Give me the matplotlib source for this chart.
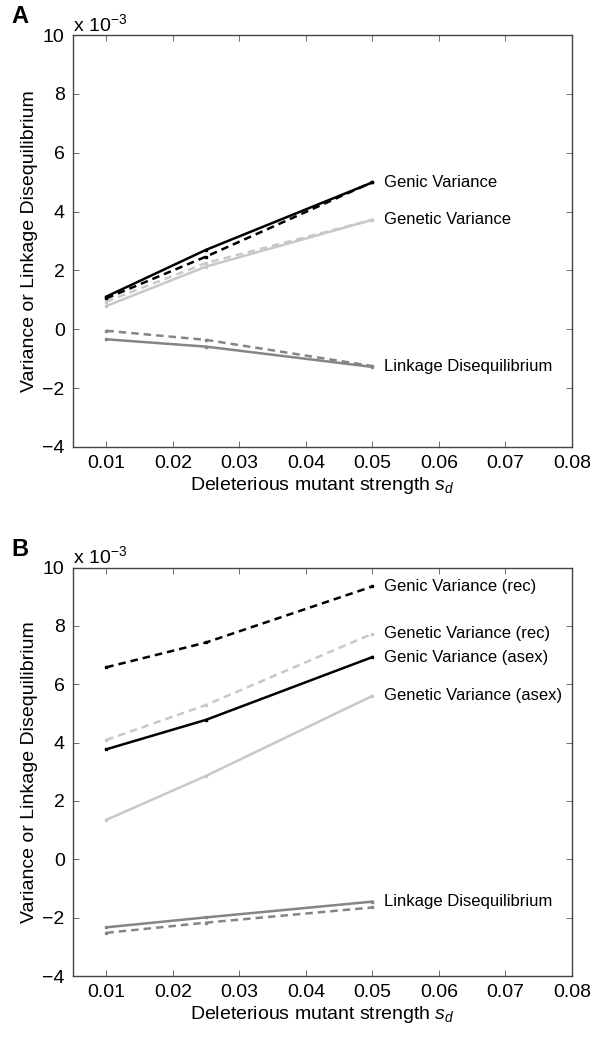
import matplotlib
matplotlib.use("Agg")
import matplotlib.pyplot as plt

plt.rcParams['font.family'] = ['Liberation Sans', 'DejaVu Sans']
plt.rcParams['mathtext.fontset'] = 'custom'
plt.rcParams['mathtext.it'] = 'Liberation Sans:italic'
plt.rcParams['mathtext.rm'] = 'Liberation Sans'

# x values: deleterious mutant strength
sd = [0.01, 0.025, 0.05]

# Panel A (values in units of 1e-3)
a_genic_solid = [1.11, 2.70, 4.99]
a_genic_dash = [1.05, 2.47, 5.00]
a_genetic_solid = [0.79, 2.13, 3.72]
a_genetic_dash = [0.94, 2.25, 3.72]
a_ld_solid = [-0.34, -0.59, -1.28]
a_ld_dash = [-0.05, -0.36, -1.25]

# Panel B (values in units of 1e-3)
b_genic_rec = [6.58, 7.43, 9.35]
b_genetic_rec = [4.09, 5.29, 7.73]
b_genic_asex = [3.77, 4.78, 6.93]
b_genetic_asex = [1.35, 2.86, 5.60]
b_ld_solid = [-2.33, -1.99, -1.45]
b_ld_dash = [-2.52, -2.17, -1.65]

xticks = [0.01, 0.02, 0.03, 0.04, 0.05, 0.06, 0.07, 0.08]
xticklabels = ['0.01', '0.02', '0.03', '0.04', '0.05', '0.06', '0.07', '0.08']
yticks = [-4, -2, 0, 2, 4, 6, 8, 10]
yticklabels = ['\u22124', '\u22122', '0', '2', '4', '6', '8', '10']

labels_a = ['Genic Variance', 'Genetic Variance', 'Linkage Disequilibrium']
labels_b = ['Genic Variance (rec)', 'Genetic Variance (rec)', 'Genic Variance (asex)',
            'Genetic Variance (asex)', 'Linkage Disequilibrium']

BLACK = '#000000'
LIGHT = '#c8c8c8'
MID = '#858585'
DASH = (0, (3.0, 2.0))

fig = plt.figure(figsize=(5.97, 10.39), dpi=100)
axA = fig.add_axes([0.1223, 0.5698, 0.8358, 0.3965])
axB = fig.add_axes([0.1223, 0.0606, 0.8358, 0.3932])


def style(ax, letter):
    ax.set_xlim(0.005, 0.08)
    ax.set_ylim(-4, 10)
    ax.set_xticks(xticks)
    ax.set_xticklabels(xticklabels, fontsize=14)
    ax.set_yticks(yticks)
    ax.set_yticklabels(yticklabels, fontsize=14)
    ax.tick_params(direction='in', length=4, width=0.6, top=True, right=True,
                   color='#555555', pad=6)
    for s in ax.spines.values():
        s.set_color('#444444')
        s.set_linewidth(1.0)
    ax.set_xlabel('Deleterious mutant strength $s_d$', fontsize=14, labelpad=2)
    ax.set_ylabel('Variance or Linkage Disequilibrium', fontsize=14, labelpad=3)
    ax.text(0.0, 1.0, r'x 10$^{\mathregular{-3}}$', transform=ax.transAxes,
            fontsize=14, ha='left', va='bottom')
    ax.text(-0.124, 1.016, letter, transform=ax.transAxes, fontsize=17,
            fontweight='bold', ha='left', va='bottom')


def line(ax, y, color, ls):
    ax.plot(sd, y, color=color, linestyle=ls, lw=1.8, marker='s', markersize=2.0,
            markerfacecolor=color, markeredgecolor=color, clip_on=False)

# Panel A
line(axA, a_genetic_dash, LIGHT, DASH)
line(axA, a_genetic_solid, LIGHT, '-')
line(axA, a_ld_dash, MID, DASH)
line(axA, a_ld_solid, MID, '-')
line(axA, a_genic_solid, BLACK, '-')
line(axA, a_genic_dash, BLACK, DASH)
style(axA, 'A')
tx = 0.0518
axA.text(tx, a_genic_solid[-1], labels_a[0], fontsize=12, va='center')
axA.text(tx, a_genetic_solid[-1], labels_a[1], fontsize=12, va='center')
axA.text(tx, a_ld_solid[-1], labels_a[2], fontsize=12, va='center')

# Panel B
line(axB, b_genetic_rec, LIGHT, DASH)
line(axB, b_genetic_asex, LIGHT, '-')
line(axB, b_ld_dash, MID, DASH)
line(axB, b_ld_solid, MID, '-')
line(axB, b_genic_rec, BLACK, DASH)
line(axB, b_genic_asex, BLACK, '-')
style(axB, 'B')
axB.text(tx, b_genic_rec[-1], labels_b[0], fontsize=12, va='center')
axB.text(tx, b_genetic_rec[-1], labels_b[1], fontsize=12, va='center')
axB.text(tx, b_genic_asex[-1], labels_b[2], fontsize=12, va='center')
axB.text(tx, b_genetic_asex[-1], labels_b[3], fontsize=12, va='center')
axB.text(tx, b_ld_solid[-1], labels_b[4], fontsize=12, va='center')

fig.savefig('out.png', dpi=100)
